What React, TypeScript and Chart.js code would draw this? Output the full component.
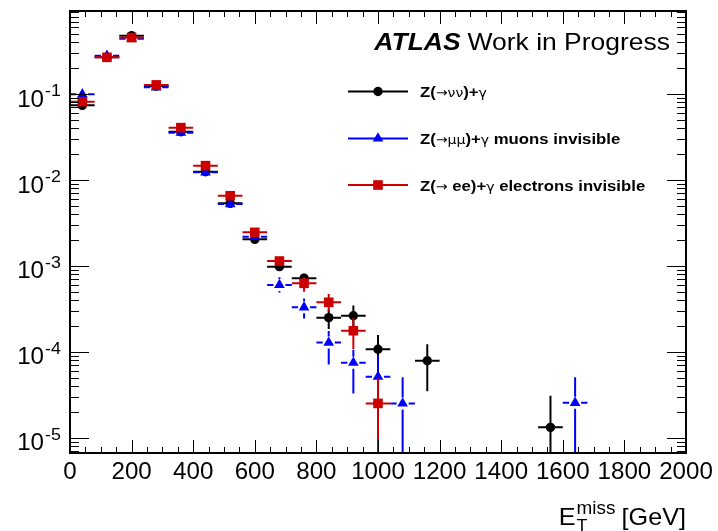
import React, { useEffect, useRef } from "react";
import { Chart, registerables } from "chart.js";

Chart.register(...registerables);

// ---- data ----
const xTickValues = [0, 200, 400, 600, 800, 1000, 1200, 1400, 1600, 1800, 2000];
const yTickExponents = [-5, -4, -3, -2, -1];
const binHalfWidth = 40;
const yMin = 6.64e-6;
const yMax = 0.928;

const nunuLabel = "Z(\u2192\u03bd\u03bd)+\u03b3";
const nunuX = [40, 120, 200, 280, 360, 440, 520, 600, 680, 760, 840, 920, 1000, 1160, 1560];
const nunuY = [0.074, 0.268, 0.479, 0.124, 0.0365, 0.0125, 0.00535, 0.00204, 0.00098, 0.00072, 0.00025, 0.000263, 0.000107, 0.0000787, 0.0000132];
const nunuUp = [0.002, 0.004, 0.006, 0.002, 0.0006, 0.0003, 0.00015, 0.00008, 0.00006, 0.00009, 0.00006, 0.000082, 0.00005, 0.000044, 0.0000177];
const nunuDn = [0.002, 0.004, 0.006, 0.002, 0.0006, 0.0003, 0.00015, 0.00008, 0.00006, 0.00008, 0.000066, 0.00007, 0.00005, 0.000044, 0.0000132];

const muLabel = "Z(\u2192\u03bc\u03bc)+\u03b3 muons invisible";
const muX = [40, 120, 200, 280, 360, 440, 520, 600, 680, 760, 840, 920, 1000, 1080, 1640];
const muY = [0.0995, 0.28, 0.442, 0.12, 0.0355, 0.0123, 0.00525, 0.00219, 0.0006, 0.00033, 0.000128, 0.0000747, 0.0000513, 0.0000251, 0.0000255];
const muUp = [0.003, 0.005, 0.006, 0.002, 0.0007, 0.0003, 0.00015, 0.0001, 0.00014, 0.000088, 0.000047, 0.000031, 0.000038, 0.0000254, 0.000025];
const muDn = [0.003, 0.005, 0.006, 0.002, 0.0007, 0.0003, 0.00015, 0.0001, 0.00011, 0.000085, 0.000057, 0.000042, 0.0000365, 0.0000251, 0.0000255];

const eeLabel = "Z(\u2192 ee)+\u03b3 electrons invisible";
const eeX = [40, 120, 200, 280, 360, 440, 520, 600, 680, 760, 840, 920, 1000];
const eeY = [0.0816, 0.268, 0.455, 0.128, 0.0407, 0.0147, 0.00656, 0.00246, 0.00114, 0.000627, 0.000377, 0.000176, 0.0000251];
const eeUp = [0.002, 0.004, 0.006, 0.003, 0.0009, 0.0004, 0.0002, 0.0001, 0.0001, 0.00011, 0.000093, 0.00007, 0.0000243];
const eeDn = [0.002, 0.004, 0.006, 0.003, 0.0009, 0.0004, 0.0002, 0.0001, 0.0001, 0.000127, 0.000083, 0.000068, 0.0000251];

const SANS = "'Liberation Sans', Arial, Helvetica, sans-serif";
const SYM = "'DejaVu Sans', 'Liberation Sans', sans-serif";

type Run = { t: string; font: string };

function drawText(ctx: CanvasRenderingContext2D, s: string, x: number, y: number, font: string, align = "left", sx = 1) {
  ctx.save();
  ctx.font = font;
  const w = ctx.measureText(s).width * sx;
  const x0 = align === "center" ? x - w / 2 : align === "right" ? x - w : x;
  ctx.translate(x0, y);
  ctx.scale(sx, 1);
  ctx.textAlign = "left";
  ctx.textBaseline = "alphabetic";
  ctx.fillStyle = "#000";
  ctx.fillText(s, 0, 0);
  ctx.restore();
  return w;
}

function drawRuns(ctx: CanvasRenderingContext2D, runs: Run[], x: number, y: number, sx = 1) {
  let cx = x;
  for (const r of runs) cx += drawText(ctx, r.t, cx, y, r.font, "left", sx);
  return cx;
}

function drawMarker(ctx: CanvasRenderingContext2D, style: string, x: number, y: number, r: number, color: string) {
  ctx.save();
  ctx.fillStyle = color;
  ctx.beginPath();
  if (style === "circle") {
    ctx.arc(x, y, r, 0, Math.PI * 2);
  } else if (style === "triangle") {
    let a = 0;
    ctx.moveTo(x + Math.sin(a) * r, y - Math.cos(a) * r);
    a += (2 * Math.PI) / 3;
    ctx.lineTo(x + Math.sin(a) * r, y - Math.cos(a) * r);
    a += (2 * Math.PI) / 3;
    ctx.lineTo(x + Math.sin(a) * r, y - Math.cos(a) * r);
    ctx.closePath();
  } else {
    const s = Math.SQRT1_2 * r;
    ctx.rect(x - s, y - s, 2 * s, 2 * s);
  }
  ctx.fill();
  ctx.restore();
}

export default function App() {
  const ref = useRef<HTMLCanvasElement>(null);

  useEffect(() => {
    if (!ref.current) return;
    const bold = `bold 15.5px ${SANS}`;
    const sym = `13px ${SYM}`;
    const series = [
      {
        label: nunuLabel, color: "#000000", style: "circle", radius: 4.7, gap: 4, order: 3,
        x: nunuX, y: nunuY, up: nunuUp, dn: nunuDn,
        runs: [
          { t: "Z(", font: bold }, { t: "\u2192\u03bd\u03bd", font: sym }, { t: ")+", font: bold }, { t: "\u03b3", font: sym },
        ] as Run[],
      },
      {
        label: muLabel, color: "#0000ff", style: "triangle", radius: 6.2, gap: 6, order: 2,
        x: muX, y: muY, up: muUp, dn: muDn,
        runs: [
          { t: "Z(", font: bold }, { t: "\u2192\u03bc\u03bc", font: sym }, { t: ")+", font: bold }, { t: "\u03b3", font: sym },
          { t: " muons invisible", font: bold },
        ] as Run[],
      },
      {
        label: eeLabel, color: "#cc0000", style: "rect", radius: 6.8, gap: 4, order: 1,
        x: eeX, y: eeY, up: eeUp, dn: eeDn,
        runs: [
          { t: "Z(", font: bold }, { t: "\u2192", font: sym }, { t: " ee)+", font: bold }, { t: "\u03b3", font: sym },
          { t: " electrons invisible", font: bold },
        ] as Run[],
      },
    ];

    const errPlugin = {
      id: "errbars",
      beforeDatasetDraw(chart: any, args: any) {
        const s = series[args.index];
        const { ctx, chartArea: ca } = chart;
        const xs = chart.scales.x;
        const ys = chart.scales.y;
        ctx.save();
        ctx.beginPath();
        ctx.rect(ca.left, ca.top, ca.right - ca.left, ca.bottom - ca.top);
        ctx.clip();
        ctx.strokeStyle = s.color;
        ctx.lineWidth = 2;
        s.x.forEach((xv: number, i: number) => {
          const px = xs.getPixelForValue(xv);
          const py = ys.getPixelForValue(s.y[i]);
          const xl = xs.getPixelForValue(xv - binHalfWidth);
          const xr = xs.getPixelForValue(xv + binHalfWidth);
          const lo = s.y[i] - s.dn[i];
          const yLo = lo > 0 ? ys.getPixelForValue(lo) : ca.bottom + 5;
          const yHi = ys.getPixelForValue(s.y[i] + s.up[i]);
          const g = s.gap;
          ctx.beginPath();
          ctx.moveTo(xl, py);
          ctx.lineTo(px - g, py);
          ctx.moveTo(px + g, py);
          ctx.lineTo(xr, py);
          if (yHi < py - g) {
            ctx.moveTo(px, py - g);
            ctx.lineTo(px, yHi);
          }
          if (yLo > py + g) {
            ctx.moveTo(px, py + g);
            ctx.lineTo(px, yLo);
          }
          ctx.stroke();
        });
        ctx.restore();
      },
    };

    const decoPlugin = {
      id: "deco",
      afterDraw(chart: any) {
        const { ctx, chartArea: ca } = chart;
        const xs = chart.scales.x;
        const ys = chart.scales.y;
        ctx.save();
        // ticks
        ctx.strokeStyle = "#000";
        ctx.lineWidth = 1;
        ctx.beginPath();
        for (let v = 0; v <= 2000; v += 50) {
          const px = Math.round(xs.getPixelForValue(v)) + 0.5;
          const len = v % 200 === 0 ? 13 : 6;
          ctx.moveTo(px, ca.bottom);
          ctx.lineTo(px, ca.bottom - len);
          ctx.moveTo(px, ca.top);
          ctx.lineTo(px, ca.top + len);
        }
        for (let e = -6; e <= 0; e++) {
          for (let m = 1; m <= 9; m++) {
            const v = m * Math.pow(10, e);
            if (v < yMin || v > yMax) continue;
            const py = Math.round(ys.getPixelForValue(v)) + 0.5;
            const len = m === 1 ? 19 : 9;
            ctx.moveTo(ca.left, py);
            ctx.lineTo(ca.left + len, py);
            ctx.moveTo(ca.right, py);
            ctx.lineTo(ca.right - len, py);
          }
        }
        ctx.stroke();
        // frame
        ctx.lineWidth = 2;
        ctx.strokeRect(ca.left, ca.top, ca.right - ca.left, ca.bottom - ca.top);
        ctx.restore();

        // x tick labels
        xTickValues.forEach((v) => {
          drawText(ctx, String(v), xs.getPixelForValue(v), ca.bottom + 26, `23px ${SANS}`, "center", 1.05);
        });
        // y tick labels
        yTickExponents.forEach((e) => {
          const py = ys.getPixelForValue(Math.pow(10, e));
          drawText(ctx, "10", ca.left - 26, py + 12.5, `23px ${SANS}`, "right", 1.05);
          drawText(ctx, String(e), ca.left - 25, py + 2, `17px ${SANS}`, "left", 1.05);
        });
        // x axis title
        const gw = drawText(ctx, " [GeV]", ca.right, 525, `24px ${SANS}`, "right", 1.05);
        const sx0 = ca.right - gw;
        ctx.save();
        ctx.font = `18px ${SANS}`;
        const missW = ctx.measureText("miss").width * 1.05;
        ctx.restore();
        const eStart = sx0 - missW - 17;
        const ew = drawText(ctx, "E", eStart, 525, `24px ${SANS}`, "left", 1.05);
        drawText(ctx, "miss", eStart + ew + 1, 514, `18px ${SANS}`, "left", 1.05);
        drawText(ctx, "T", eStart + ew + 1, 531, `17px ${SANS}`, "left", 1.05);

        // ATLAS label
        const wip = drawText(ctx, "Work in Progress", 670, 50, `24.5px ${SANS}`, "right", 1.08);
        drawText(ctx, "ATLAS", 670 - wip - 7, 50, `italic bold 24.5px ${SANS}`, "right", 1.08);

        // legend
        const rowsY = [91.5, 138.5, 185];
        series.forEach((s, i) => {
          const y = rowsY[i];
          ctx.save();
          ctx.strokeStyle = s.color;
          ctx.lineWidth = 2;
          ctx.beginPath();
          ctx.moveTo(348, y);
          ctx.lineTo(408, y);
          ctx.stroke();
          ctx.restore();
          drawMarker(ctx, s.style, 378, y, s.radius, s.color);
          drawRuns(ctx, s.runs, 420, y + 5.5, 1.08);
        });
      },
    };

    const chart = new Chart(ref.current, {
      type: "scatter",
      data: {
        datasets: series.map((s) => ({
          label: s.label,
          data: s.x.map((x, i) => ({ x, y: s.y[i] })),
          pointStyle: s.style as any,
          pointRadius: s.radius,
          pointHoverRadius: s.radius,
          pointBackgroundColor: s.color,
          pointBorderColor: s.color,
          pointBorderWidth: 0,
          backgroundColor: s.color,
          borderColor: s.color,
          showLine: false,
          order: s.order,
        })),
      },
      options: {
        responsive: false,
        animation: false,
        events: [],
        layout: { padding: { left: 70, top: 11, right: 32, bottom: 78 } },
        plugins: { legend: { display: false }, tooltip: { enabled: false } },
        scales: {
          x: { type: "linear", min: 0, max: 2000, display: false },
          y: { type: "logarithmic", min: yMin, max: yMax, display: false },
        },
      },
      plugins: [errPlugin, decoPlugin],
    });
    return () => chart.destroy();
  }, []);

  return (
    <div style={{ position: "absolute", left: 0, top: 0, width: 718, height: 531, background: "#fff" }}>
      <canvas ref={ref} width={718} height={531} />
    </div>
  );
}
